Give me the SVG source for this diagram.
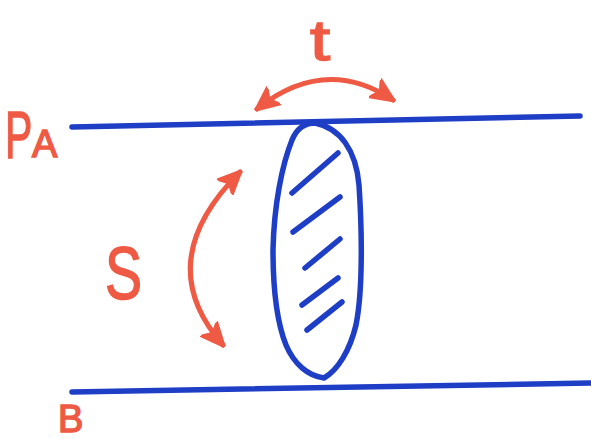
<svg xmlns="http://www.w3.org/2000/svg" width="591" height="439" viewBox="0 0 591 439">
<style>
.blue{fill:none;stroke:#1f3ec6;stroke-width:5.5;stroke-linecap:round;stroke-linejoin:round}
.red{fill:none;stroke:#ef5a45;stroke-width:5;stroke-linecap:round}
.lbl{fill:#ef5a45;stroke:#ef5a45;stroke-width:1.5;font-family:"Liberation Sans","DejaVu Sans",sans-serif}
</style>
<defs>
<marker id="ah" viewBox="0 0 20 20" refX="18" refY="10" markerWidth="24" markerHeight="24" markerUnits="userSpaceOnUse" orient="auto-start-reverse">
<path d="M0,1 L20,10 L0,19 L5,10 Z" fill="#ef5a45" stroke="#ef5a45" stroke-width="2" stroke-linejoin="round"/>
</marker>
</defs>
<rect width="591" height="439" fill="#ffffff"/>
<g id="line-pa">
<path class="blue" d="M72,127 L580,116"/>
</g>
<g id="line-b">
<path class="blue" d="M72,392 L590,383"/>
</g>
<g id="body">
<path class="blue" d="M315,123 C340,128 356,150 359,185 C362,230 363,290 356,325 C350,350 338,370 324,378 C308,376 294,364 286,345 C276,320 273,285 273,250 C274,205 282,165 292,140 C297,128 305,123 315,123 Z"/>
<path class="blue" d="M292,193 L338,153 M293,232 L340,197 M305,268 L340,239 M302,305 L338,278 M307,330 L342,302"/>
</g>
<g id="label-pa">
<text class="lbl" transform="translate(5,158) scale(0.62,1)" font-size="66">P</text>
<text class="lbl" x="32" y="157" font-size="38">A</text>
</g>
<g id="label-b">
<text class="lbl" x="58" y="432" font-size="38">B</text>
</g>
<g id="label-t">
<text class="lbl" transform="translate(310,60) scale(1.25,1)" font-size="58">t</text>
</g>
<g id="label-s">
<text class="lbl" transform="translate(105,299) scale(0.75,1)" font-size="74">S</text>
</g>
<g id="connectors">
<path class="red" d="M257,109 Q325,55 393,100" marker-start="url(#ah)" marker-end="url(#ah)"/>
<path class="red" d="M240,172 Q150,262 223,345" marker-start="url(#ah)" marker-end="url(#ah)"/>
</g>
</svg>
